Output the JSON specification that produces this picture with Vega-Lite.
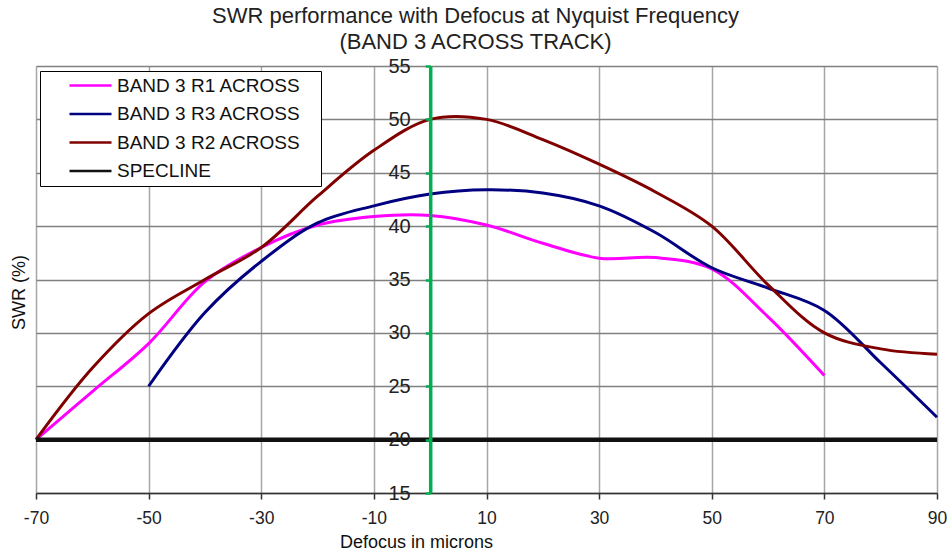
{
  "$schema": "https://vega.github.io/schema/vega-lite/v6.json",
  "width": 901,
  "height": 427,
  "autosize": "none",
  "padding": {"left": 36, "top": 66, "right": 13, "bottom": 57},
  "background": "white",
  "config": {"font": "Liberation Sans", "view": {"stroke": null}},
  "title": {
    "text": ["SWR performance with Defocus at Nyquist Frequency", "(BAND 3 ACROSS TRACK)"],
    "fontSize": 22, "fontWeight": "normal", "color": "#222", "lineHeight": 26,
    "offset": 2, "dx": -11, "anchor": "middle", "font": "Liberation Sans"
  },
  "data": {
    "values": [
      {"series": "BAND 3 R1 ACROSS", "x": -70, "y": 20},
      {"series": "BAND 3 R1 ACROSS", "x": -60, "y": 24.5},
      {"series": "BAND 3 R1 ACROSS", "x": -50, "y": 29},
      {"series": "BAND 3 R1 ACROSS", "x": -40, "y": 34.8},
      {"series": "BAND 3 R1 ACROSS", "x": -30, "y": 38},
      {"series": "BAND 3 R1 ACROSS", "x": -20, "y": 40.1},
      {"series": "BAND 3 R1 ACROSS", "x": -10, "y": 40.9},
      {"series": "BAND 3 R1 ACROSS", "x": 0, "y": 41},
      {"series": "BAND 3 R1 ACROSS", "x": 10, "y": 40.1},
      {"series": "BAND 3 R1 ACROSS", "x": 20, "y": 38.4},
      {"series": "BAND 3 R1 ACROSS", "x": 30, "y": 37},
      {"series": "BAND 3 R1 ACROSS", "x": 40, "y": 37.05},
      {"series": "BAND 3 R1 ACROSS", "x": 50, "y": 36},
      {"series": "BAND 3 R1 ACROSS", "x": 60, "y": 31.5},
      {"series": "BAND 3 R1 ACROSS", "x": 70, "y": 26},
      {"series": "BAND 3 R3 ACROSS", "x": -50, "y": 25},
      {"series": "BAND 3 R3 ACROSS", "x": -40, "y": 31.9},
      {"series": "BAND 3 R3 ACROSS", "x": -30, "y": 36.7},
      {"series": "BAND 3 R3 ACROSS", "x": -20, "y": 40.3},
      {"series": "BAND 3 R3 ACROSS", "x": -10, "y": 41.9},
      {"series": "BAND 3 R3 ACROSS", "x": 0, "y": 43},
      {"series": "BAND 3 R3 ACROSS", "x": 10, "y": 43.4},
      {"series": "BAND 3 R3 ACROSS", "x": 20, "y": 43.1},
      {"series": "BAND 3 R3 ACROSS", "x": 30, "y": 41.9},
      {"series": "BAND 3 R3 ACROSS", "x": 40, "y": 39.4},
      {"series": "BAND 3 R3 ACROSS", "x": 50, "y": 36.1},
      {"series": "BAND 3 R3 ACROSS", "x": 60, "y": 34.2},
      {"series": "BAND 3 R3 ACROSS", "x": 70, "y": 32.1},
      {"series": "BAND 3 R3 ACROSS", "x": 80, "y": 27.2},
      {"series": "BAND 3 R3 ACROSS", "x": 90, "y": 22.1},
      {"series": "BAND 3 R2 ACROSS", "x": -70, "y": 20},
      {"series": "BAND 3 R2 ACROSS", "x": -60, "y": 26.7},
      {"series": "BAND 3 R2 ACROSS", "x": -50, "y": 31.8},
      {"series": "BAND 3 R2 ACROSS", "x": -40, "y": 35},
      {"series": "BAND 3 R2 ACROSS", "x": -30, "y": 38},
      {"series": "BAND 3 R2 ACROSS", "x": -20, "y": 42.8},
      {"series": "BAND 3 R2 ACROSS", "x": -10, "y": 47.1},
      {"series": "BAND 3 R2 ACROSS", "x": 0, "y": 50},
      {"series": "BAND 3 R2 ACROSS", "x": 10, "y": 50},
      {"series": "BAND 3 R2 ACROSS", "x": 20, "y": 48.1},
      {"series": "BAND 3 R2 ACROSS", "x": 30, "y": 45.8},
      {"series": "BAND 3 R2 ACROSS", "x": 40, "y": 43.2},
      {"series": "BAND 3 R2 ACROSS", "x": 50, "y": 40},
      {"series": "BAND 3 R2 ACROSS", "x": 60, "y": 34.5},
      {"series": "BAND 3 R2 ACROSS", "x": 70, "y": 30},
      {"series": "BAND 3 R2 ACROSS", "x": 80, "y": 28.5},
      {"series": "BAND 3 R2 ACROSS", "x": 90, "y": 28},
      {"series": "SPECLINE", "x": -70, "y": 20},
      {"series": "SPECLINE", "x": 90, "y": 20}
    ]
  },
  "encoding": {
    "x": {
      "field": "x", "type": "quantitative",
      "scale": {"domain": [-70, 90], "nice": false, "zero": false},
      "axis": {
        "values": [-70, -50, -30, -10, 10, 30, 50, 70, 90],
        "labelExpr": "'' + datum.value",
        "title": "Defocus in microns",
        "domainColor": "#333", "domainWidth": 1.5,
        "tickColor": "#333", "tickWidth": 1.5, "tickSize": 6,
        "labelFontSize": 17.5, "labelColor": "#222", "labelPadding": 10,
        "labelFlush": false, "labelOverlap": false,
        "gridColor": "#A6A6A6", "gridWidth": 1.5,
        "titleFontSize": 18, "titleFontWeight": "normal", "titleColor": "#111",
        "titleX": 380, "titleY": 54, "titleAlign": "center", "titleBaseline": "alphabetic"
      }
    },
    "color": {
      "field": "series", "type": "nominal",
      "scale": {
        "domain": ["BAND 3 R1 ACROSS", "BAND 3 R3 ACROSS", "BAND 3 R2 ACROSS", "SPECLINE"],
        "range": ["#FF00FF", "#000080", "#800000", "#111111"]
      },
      "legend": {
        "orient": "none", "legendX": 4, "legendY": 5,
        "title": "MM", "titleOrient": "right", "titleColor": "white",
        "titleFontSize": 9, "titlePadding": 0,
        "strokeColor": "#000", "fillColor": "white", "padding": 5,
        "symbolType": "M-1,0H1", "symbolSize": 1764, "symbolStrokeWidth": 2.5,
        "clipHeight": 19,
        "symbolOffset": 23, "labelFontSize": 19, "labelColor": "#111",
        "labelOffset": 4, "rowPadding": 8.5, "labelLimit": 400
      }
    }
  },
  "layer": [
    {
      "transform": [{"filter": "datum.series !== 'SPECLINE'"}],
      "mark": {"type": "line", "interpolate": "catmull-rom", "strokeWidth": 3},
      "encoding": {
        "y": {
          "field": "y", "type": "quantitative",
          "scale": {"domain": [15, 55], "nice": false, "zero": false},
          "axis": {
            "orient": "left",
            "values": [15, 20, 25, 30, 35, 40, 45, 50, 55],
            "grid": true, "gridColor": "#808080", "gridWidth": 1.5,
            "domain": false, "ticks": false, "labels": false, "title": null,
            "zindex": 0
          }
        }
      }
    },
    {
      "transform": [{"filter": "datum.series === 'SPECLINE'"}],
      "mark": {"type": "line", "strokeWidth": 4.5},
      "encoding": {
        "y": {
          "field": "y", "type": "quantitative",
          "scale": {"domain": [15, 55], "nice": false, "zero": false},
          "axis": {
            "orient": "left", "offset": -394.2,
            "values": [15, 20, 25, 30, 35, 40, 45, 50, 55],
            "title": "SWR (%)", "grid": false,
            "domainColor": "#00B050", "domainWidth": 3.5,
            "tickColor": "#00B050", "tickWidth": 2.5, "tickSize": 5,
            "labelFontSize": 20, "labelColor": "#222", "labelPadding": 15,
            "titleFontSize": 18, "titleFontWeight": "normal", "titleColor": "#111",
            "titleX": -411, "titleY": 226, "titleAngle": -90,
            "titleAlign": "center", "titleBaseline": "middle",
            "zindex": 1
          }
        }
      }
    }
  ],
  "resolve": {"axis": {"y": "independent"}}
}
